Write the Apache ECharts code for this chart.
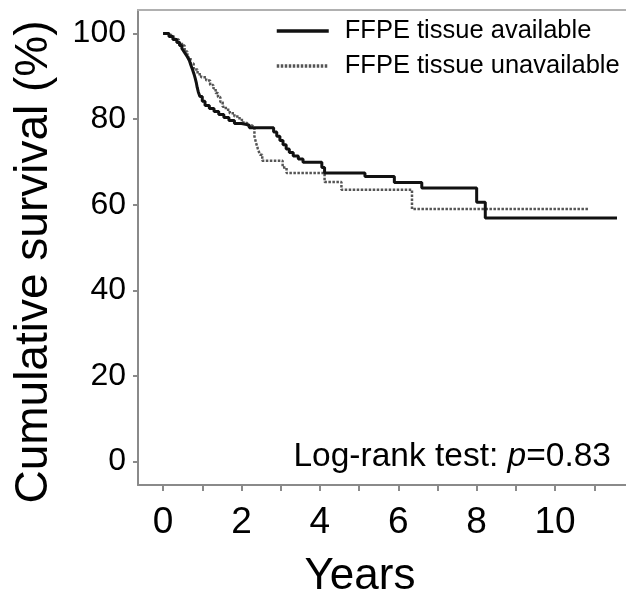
<!DOCTYPE html>
<html>
<head>
<meta charset="utf-8">
<script src="https://cdn.jsdelivr.net/npm/echarts@6/dist/echarts.min.js"></script>
<style>
html,body{margin:0;padding:0;background:#fff;}
#chart{width:626px;height:598px;}
</style>
</head>
<body>
<div id="chart"></div>
<script>
// Kaplan-Meier curves (years, cumulative survival %)
var timesAvail = [0,0.15,0.25,0.35,0.42,0.48,0.53,0.58,0.63,0.67,0.71,0.75,0.79,0.82,0.85,0.87,0.9,0.94,1.0,1.07,1.18,1.3,1.42,1.55,1.68,1.82,2.0,2.2,2.82,2.9,2.98,3.06,3.14,3.22,3.32,3.45,3.57,4.05,4.12,5.15,5.9,6.6,8.0,8.22,11.58];
var survAvail  = [100,99.3,98.6,97.9,97.2,96.5,95.8,95.1,94.4,93.7,92.6,91.6,90.5,89.5,88.4,87.4,86.3,85.3,84.2,83.2,82.5,81.8,81.1,80.4,79.7,79.0,78.6,78.0,77.0,76.0,75.0,74.0,73.0,72.2,71.4,70.7,69.9,68.7,67.4,66.6,65.2,63.9,60.6,56.9,56.9];
var timesUnavail = [0,0.2,0.3,0.4,0.48,0.55,0.62,0.7,0.78,0.88,0.97,1.1,1.2,1.28,1.34,1.4,1.46,1.52,1.6,1.7,1.82,1.95,2.05,2.15,2.27,2.33,2.37,2.42,2.47,2.53,3.05,3.15,4.12,4.55,6.35,10.84];
var survUnavail  = [100,99.3,98.6,97.9,97.2,95.8,94.4,93.0,91.6,90.5,89.8,89.0,88.0,87.2,86.1,85.2,84.0,82.9,82.2,81.4,80.6,79.8,79.1,78.5,78.1,76.0,74.5,73.0,71.7,70.3,68.7,67.4,65.3,63.5,59.0,59.0];
var seriesNames = ['FFPE tissue available','FFPE tissue unavailable'];
var xTickValues = [0,1,2,3,4,5,6,7,8,9,10,11];
var xLabelValues = [0,2,4,6,8,10];
var yTickValues = [0,20,40,60,80,100];

function pairs(t, s){ return t.map(function(v,i){ return [v, s[i]]; }); }

var FONT = '"Liberation Sans", Arial, sans-serif';
var AXIS = '#8a8a8a';
var chart = echarts.init(document.getElementById('chart'));
chart.setOption({
  animation:false,
  backgroundColor:'#fff',
  grid:{left:138, right:0, top:10, bottom:113},
  legend:{
    orient:'vertical', left:270, top:13, itemWidth:52, itemHeight:14, itemGap:9,
    itemStyle:{opacity:0, borderWidth:0},
    lineStyle:{width:3.5},
    textStyle:{fontSize:25.5, fontFamily:FONT, color:'#000', padding:[0,0,0,11]},
    data:seriesNames
  },
  xAxis:[{
    type:'value', min:-0.64, max:11.81,
    axisLine:{show:true, onZero:false, lineStyle:{color:AXIS, width:2}},
    axisTick:{show:true, customValues:xTickValues, length:6, lineStyle:{color:AXIS, width:2}},
    axisLabel:{customValues:xLabelValues, fontSize:37, fontFamily:FONT, color:'#000', margin:19},
    splitLine:{show:false}
  },{
    type:'value', position:'top', min:-0.64, max:11.81,
    axisLine:{show:true, onZero:false, lineStyle:{color:'#b0b0b0', width:2}},
    axisTick:{show:false}, axisLabel:{show:false}, splitLine:{show:false}
  }],
  yAxis:{
    type:'value', min:-5.49, max:105.5,
    axisLine:{show:true, onZero:false, lineStyle:{color:AXIS, width:2}},
    axisTick:{show:true, customValues:yTickValues, length:5, lineStyle:{color:AXIS, width:2}},
    axisLabel:{customValues:yTickValues, fontSize:32, fontFamily:FONT, color:'#000', margin:12},
    splitLine:{show:false}
  },
  series:[{
    name:seriesNames[0], type:'line', step:'end', symbol:'none',
    data:pairs(timesAvail, survAvail),
    lineStyle:{color:'#111', width:3},
    itemStyle:{color:'#111'}, z:3
  },{
    name:seriesNames[1], type:'line', step:'end', symbol:'none',
    data:pairs(timesUnavail, survUnavail),
    lineStyle:{color:'#555', width:2.5, type:[2.5,1.5]},
    itemStyle:{color:'#555'}, z:2
  }],
  graphic:[{
    type:'text', x:34, y:262, rotation:Math.PI/2,
    style:{text:'Cumulative survival (%)', fontSize:46, fontFamily:FONT, fill:'#000', align:'center', verticalAlign:'middle'}
  },{
    type:'text', x:360, y:577,
    style:{text:'Years', fontSize:44, fontFamily:FONT, fill:'#000', align:'center', verticalAlign:'middle'}
  },{
    type:'text', x:611, y:457,
    style:{
      text:'{a|Log-rank test: }{b|p}{a|=0.83}',
      fontSize:33.5, fontFamily:FONT, fill:'#000', align:'right', verticalAlign:'middle',
      rich:{
        a:{fontSize:33.5, fontFamily:FONT, fill:'#000'},
        b:{fontSize:33.5, fontFamily:FONT, fill:'#000', fontStyle:'italic'}
      }
    }
  }]
});
</script>
</body>
</html>
